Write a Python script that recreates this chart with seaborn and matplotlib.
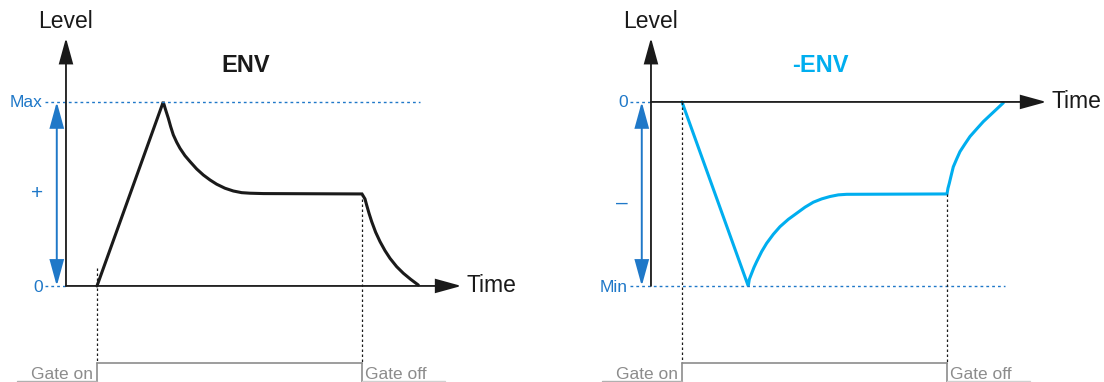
import matplotlib
matplotlib.use("Agg")
import matplotlib.pyplot as plt
import seaborn as sns

# envelope: time (gate on = 0, gate off = 4), level
env_time = [0.0, 1.0, 1.036, 1.077, 1.112, 1.152, 1.203, 1.253, 1.328, 1.404, 1.504,
            1.605, 1.706, 1.806, 1.932, 2.058, 2.184, 2.309, 2.511,
            4.0, 4.045, 4.070, 4.106, 4.146, 4.206, 4.272, 4.347, 4.423, 4.523,
            4.624, 4.735, 4.85]
env_level = [0.0, 1.0, 0.957, 0.911, 0.866, 0.821, 0.781, 0.748, 0.708, 0.676, 0.636,
             0.603, 0.576, 0.553, 0.531, 0.516, 0.507, 0.504, 0.502,
             0.5, 0.473, 0.440, 0.395, 0.350, 0.292, 0.241, 0.192, 0.150, 0.105,
             0.069, 0.036, 0.005]

neg_time = [0.0, 1.0, 1.016, 1.052, 1.087, 1.127, 1.203, 1.278, 1.379, 1.479, 1.605,
            1.731, 1.857, 1.982, 2.108, 2.234, 2.360, 2.486,
            4.0, 4.015, 4.035, 4.065, 4.095, 4.146, 4.196, 4.272, 4.347, 4.448,
            4.548, 4.699, 4.85]
neg_level = [0.0, -1.0, -0.964, -0.931, -0.899, -0.868, -0.813, -0.768, -0.719, -0.678, -0.638,
             -0.605, -0.572, -0.545, -0.527, -0.514, -0.505, -0.502,
             -0.5, -0.469, -0.442, -0.397, -0.353, -0.310, -0.270, -0.228, -0.188, -0.147,
             -0.107, -0.056, -0.005]

gate_on, gate_off = 0.0, 4.0

BLACK = "#1a1a1a"
BLUE = "#1f78c8"
CYAN = "#00aeef"
GRAY = "#8c8c8c"

sns.set_theme(style="white")
plt.rcParams["font.family"] = ["Liberation Sans", "DejaVu Sans"]

fig = plt.figure(figsize=(11.04, 3.82), dpi=100)
fig.patch.set_facecolor("white")


def arrow(ax, start, tip, color, style="-|>", lw=1.3):
    ax.annotate("", xy=tip, xytext=start,
                arrowprops=dict(arrowstyle=style + ",head_length=0.8,head_width=0.22",
                                mutation_scale=20, lw=lw, color=color,
                                shrinkA=0, shrinkB=0, joinstyle="miter"))


def panel(ax, t, lev, color, title, title_x, lo, hi, lo_lab, hi_lab, sign, sign_y, gate_top):
    ax.axis("off")
    sns.lineplot(x=t, y=lev, ax=ax, color=color, linewidth=2.2, sort=False,
                 solid_joinstyle="miter")
    # axes with arrows
    arrow(ax, (-0.468, lo), (-0.468, hi + 0.348), BLACK)
    arrow(ax, (-0.468, 0), (5.5, 0), BLACK)
    ax.text(-0.468, hi + 0.40, "Level", ha="center", va="baseline", fontsize=16.5, color=BLACK)
    ax.text(5.58, -0.033, "Time", ha="left", va="baseline", fontsize=16.5, color=BLACK)
    ax.text(title_x, hi + 0.163, title, ha="center", va="baseline", fontsize=17,
            fontweight="bold", color=color)
    # range markers
    dots = dict(color=BLUE, lw=1.0, linestyle=(0, (2, 2.2)))
    if lo == 0:
        ax.plot([-0.785, 4.875], [hi, hi], **dots)
        ax.plot([-0.785, -0.468], [lo, lo], **dots)
    else:
        ax.plot([-0.785, 4.875], [lo, lo], **dots)
        ax.plot([-0.785, -0.468], [hi, hi], **dots)
    arrow(ax, (-0.607, lo), (-0.607, hi), BLUE, style="<|-|>", lw=1.4)
    ax.text(-0.82, hi - 0.03, hi_lab, ha="right", va="baseline", fontsize=12.5, color=BLUE)
    ax.text(-0.82, lo - 0.035, lo_lab, ha="right", va="baseline", fontsize=12.5, color=BLUE)
    ax.text(-0.91, sign_y, sign, ha="center", va="center", fontsize=15, color=BLUE)
    # gate
    pulse = lo - 0.418
    base = lo - 0.516
    gdots = dict(color=BLACK, lw=0.9, linestyle=(0, (2, 2)))
    ax.plot([gate_on, gate_on], [gate_top, pulse], **gdots)
    ax.plot([gate_off, gate_off], [lev[t.index(gate_off)], pulse], **gdots)
    ax.plot([gate_on, gate_off], [pulse, pulse], color=GRAY, lw=1.2)
    ax.plot([gate_on, gate_on], [pulse, lo - 0.53], color=GRAY, lw=1.2)
    ax.plot([gate_off, gate_off], [pulse, lo - 0.53], color=GRAY, lw=1.2)
    ax.plot([-1.208, gate_on], [base, base], color="#b0b0b0", lw=1.0)
    ax.plot([gate_off, 5.25], [base, base], color="#d0d0d0", lw=1.0)
    ax.text(gate_on - 0.065, lo - 0.505, "Gate on", ha="right", va="baseline",
            fontsize=12.5, color=GRAY)
    ax.text(gate_off + 0.05, lo - 0.505, "Gate off", ha="left", va="baseline",
            fontsize=12.5, color=GRAY)


ax1 = fig.add_axes([0, 0, 0.5, 1])
ax1.set_xlim(-1.464, 6.868)
ax1.set_ylim(-0.522, 1.554)
panel(ax1, env_time, env_level, BLACK, "ENV", 2.24, 0.0, 1.0, "0", "Max", "+", 0.5, 0.098)

ax2 = fig.add_axes([0.5, 0, 0.5, 1])
ax2.set_xlim(-1.962, 6.370)
ax2.set_ylim(-1.522, 0.554)
panel(ax2, neg_time, neg_level, CYAN, "-ENV", 2.09, -1.0, 0.0, "Min", "0", "\u2013", -0.549, 0.0)

fig.savefig("out.png", dpi=100, facecolor="white")
